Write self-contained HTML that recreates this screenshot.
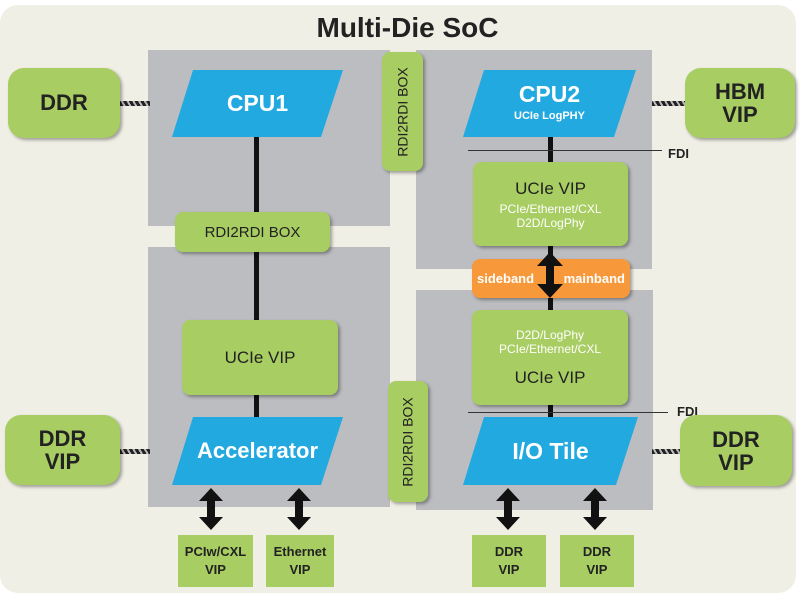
<!DOCTYPE html><html><head><style>
body{margin:0;width:800px;height:600px;background:#fff;position:relative;overflow:hidden;font-family:"Liberation Sans",sans-serif}
div{position:absolute;box-sizing:border-box}
.g{background:#bcbdc0}
.gr{background:#a8cd62;border-radius:8px;box-shadow:2px 2px 3px rgba(0,0,0,.35);display:flex;align-items:center;justify-content:center;text-align:center;color:#222;font-weight:bold}
.sq{background:#a8cd62;display:flex;align-items:center;justify-content:center;text-align:center;color:#222;font-weight:bold;font-size:13px;line-height:18px}
.t{color:#fff;font-weight:bold;display:flex;align-items:center;justify-content:center;flex-direction:column}
.v{background:#111}
</style></head><body>
<div style="left:0;top:5px;width:796px;height:588px;background:#f0efe5;border-radius:18px"></div>
<div style="left:0;top:12px;width:815px;text-align:center;font-size:28px;font-weight:bold;color:#222">Multi-Die SoC</div>
<div class="g" style="left:148px;top:50px;width:242px;height:176px"></div>
<div class="g" style="left:148px;top:247px;width:242px;height:260px"></div>
<div class="g" style="left:416px;top:50px;width:236px;height:219px"></div>
<div class="g" style="left:416px;top:290px;width:237px;height:220px"></div>
<div class="v" style="left:254px;top:137px;width:5px;height:280px"></div>
<div class="v" style="left:548px;top:137px;width:5px;height:280px"></div>
<div style="left:468px;top:150px;width:194px;height:1px;background:#333"></div>
<div style="left:468px;top:412px;width:200px;height:1px;background:#333"></div>
<div style="left:668px;top:146px;font-size:13px;font-weight:bold;color:#222">FDI</div>
<div style="left:677px;top:404px;font-size:13px;font-weight:bold;color:#222">FDI</div>
<div style="left:120px;top:101px;width:30px;height:5px;background:repeating-linear-gradient(60deg,#222 0 3px,#bbb 3px 5px)"></div>
<div style="left:652px;top:101px;width:33px;height:5px;background:repeating-linear-gradient(60deg,#222 0 3px,#bbb 3px 5px)"></div>
<div style="left:120px;top:449px;width:30px;height:5px;background:repeating-linear-gradient(60deg,#222 0 3px,#bbb 3px 5px)"></div>
<div style="left:652px;top:449px;width:30px;height:5px;background:repeating-linear-gradient(60deg,#222 0 3px,#bbb 3px 5px)"></div>
<svg style="position:absolute;left:0;top:0" width="800" height="600">
<g fill="#22a9e0">
<polygon points="193,70 343,70 321,137 172,137"/>
<polygon points="484,70 636,70 614,137 463,137"/>
<polygon points="193,417 343,417 321,485 172,485"/>
<polygon points="484,417 638,417 616,485 463,485"/>
</g>
<g fill="#111">
<path d="M211,488 l-12,13 h8 v16 h-8 l12,13 l12,-13 h-8 v-16 h8z"/>
<path d="M299,488 l-12,13 h8 v16 h-8 l12,13 l12,-13 h-8 v-16 h8z"/>
<path d="M508,488 l-12,13 h8 v16 h-8 l12,13 l12,-13 h-8 v-16 h8z"/>
<path d="M595,488 l-12,13 h8 v16 h-8 l12,13 l12,-13 h-8 v-16 h8z"/>
</g>
</svg>
<div class="t" style="left:172px;top:70px;width:171px;height:67px;font-size:23px">CPU1</div>
<div class="t" style="left:463px;top:76px;width:173px;height:50px;font-size:23px">CPU2<span style="font-size:11px;font-weight:bold;margin-top:2px">UCIe LogPHY</span></div>
<div class="t" style="left:172px;top:417px;width:171px;height:68px;font-size:22px">Accelerator</div>
<div class="t" style="left:463px;top:417px;width:175px;height:68px;font-size:23px">I/O Tile</div>
<div class="gr" style="left:8px;top:68px;width:112px;height:70px;border-radius:16px;font-size:22px">DDR</div>
<div class="gr" style="left:685px;top:68px;width:110px;height:70px;border-radius:16px;font-size:22px;line-height:23px">HBM<br>VIP</div>
<div class="gr" style="left:5px;top:415px;width:115px;height:70px;border-radius:16px;font-size:22px;line-height:23px">DDR<br>VIP</div>
<div class="gr" style="left:680px;top:415px;width:112px;height:71px;border-radius:16px;font-size:22px;line-height:23px">DDR<br>VIP</div>
<div class="gr" style="left:175px;top:212px;width:155px;height:40px;font-size:15px;font-weight:normal">RDI2RDI BOX</div>
<div class="gr" style="left:382px;top:52px;width:41px;height:119px;font-size:14px;font-weight:normal"><span style="transform:rotate(-90deg);white-space:nowrap">RDI2RDI BOX</span></div>
<div class="gr" style="left:388px;top:381px;width:40px;height:121px;font-size:14px;font-weight:normal"><span style="transform:rotate(-90deg);white-space:nowrap">RDI2RDI BOX</span></div>
<div class="gr" style="left:182px;top:320px;width:156px;height:75px;font-size:17px;font-weight:normal">UCIe VIP</div>
<div class="gr" style="left:473px;top:162px;width:155px;height:84px;flex-direction:column;font-weight:normal"><span style="font-size:17px">UCIe VIP</span><span style="font-size:12px;color:#fff;line-height:14px;margin-top:3px">PCIe/Ethernet/CXL<br>D2D/LogPhy</span></div>
<div class="gr" style="left:472px;top:310px;width:156px;height:95px;flex-direction:column;font-weight:normal"><span style="font-size:12px;color:#fff;line-height:14px">D2D/LogPhy<br>PCIe/Ethernet/CXL</span><span style="font-size:17px;margin-top:12px">UCIe VIP</span></div>
<div class="gr" style="left:472px;top:259px;width:158px;height:39px;background:#f7993a;justify-content:space-between;padding:0 5px;color:#fff;font-size:13px"><span>sideband</span><span>mainband</span></div>
<svg style="position:absolute;left:0;top:0" width="800" height="600"><path fill="#111" d="M550,252 l-13,14 h9 v18 h-9 l13,14 l13,-14 h-9 v-18 h9z"/></svg>
<div class="sq" style="left:178px;top:535px;width:75px;height:52px">PCIw/CXL<br>VIP</div>
<div class="sq" style="left:266px;top:535px;width:68px;height:52px">Ethernet<br>VIP</div>
<div class="sq" style="left:472px;top:535px;width:74px;height:52px">DDR<br>VIP</div>
<div class="sq" style="left:560px;top:535px;width:74px;height:52px">DDR<br>VIP</div>
</body></html>
